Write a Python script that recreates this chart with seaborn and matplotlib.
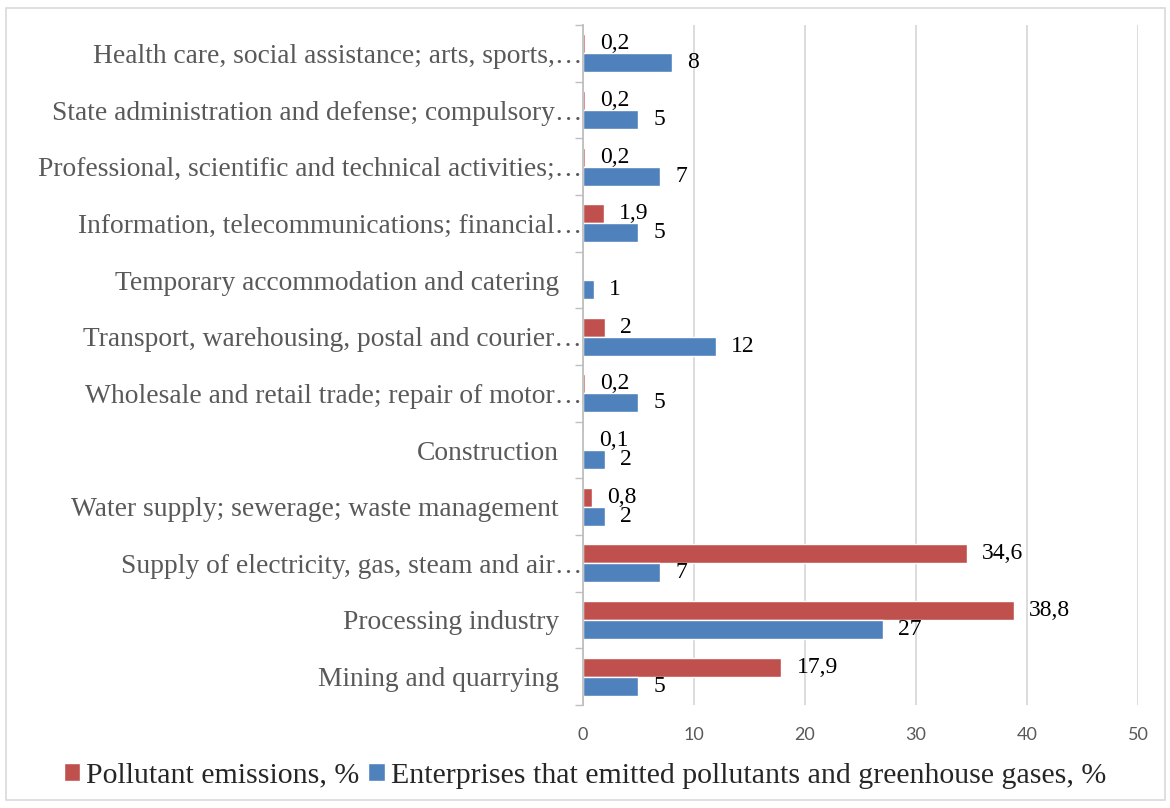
import numpy as np
import pandas as pd
import matplotlib
matplotlib.use("Agg")
import matplotlib.pyplot as plt
import matplotlib.transforms as mtransforms
from matplotlib.patches import Rectangle
from matplotlib.ticker import FixedLocator
import seaborn as sns

categories = [
    "Health care, social assistance; arts, sports,\u2026",
    "State administration and defense; compulsory\u2026",
    "Professional, scientific and technical activities;\u2026",
    "Information, telecommunications; financial\u2026",
    "Temporary accommodation and catering",
    "Transport, warehousing, postal and courier\u2026",
    "Wholesale and retail trade; repair of motor\u2026",
    "Construction",
    "Water supply; sewerage; waste management",
    "Supply of electricity, gas, steam and air\u2026",
    "Processing industry",
    "Mining and quarrying",
]
pollutant = [0.2, 0.2, 0.2, 1.9, np.nan, 2, 0.2, 0.1, 0.8, 34.6, 38.8, 17.9]
enterprises = [8, 5, 7, 5, 1, 12, 5, 2, 2, 7, 27, 5]
series_names = ["Pollutant emissions, %",
                "Enterprises that emitted pollutants and greenhouse gases, %"]
x_ticks = [0, 10, 20, 30, 40, 50]

df = pd.DataFrame({
    "category": categories * 2,
    "value": pollutant + enterprises,
    "series": [series_names[0]] * len(categories) + [series_names[1]] * len(categories),
})

sns.set_theme(style="white")
plt.rcParams["font.family"] = ["Liberation Serif", "DejaVu Serif"]

fig = plt.figure(figsize=(11.7, 8.08), dpi=100)
ax = fig.add_axes([0.498, 0.1275, 0.4746, 0.8415])

palette = {series_names[0]: "#C0504D", series_names[1]: "#4F81BD"}
sns.barplot(data=df, y="category", x="value", hue="series", order=categories,
            hue_order=series_names, palette=palette, orient="h", width=0.67,
            gap=0, errorbar=None, saturation=1, ax=ax, legend=True)

def fmt(v):
    return ("%g" % v).replace(".", ",")

for cont in ax.containers:
    labels = []
    for bar in cont:
        w = bar.get_width()
        labels.append("" if (w is None or np.isnan(w) or w == 0) else fmt(w))
    ax.bar_label(cont, labels=labels, padding=11, fontsize=17, color="black",
                 family=["Liberation Serif"])

ax.set_xlim(0, 50)
ax.set_ylim(len(categories) - 0.5, -0.5)
ax.set_xticks(x_ticks)
ax.set_xticklabels([str(t) for t in x_ticks], family=["Lato", "DejaVu Sans"],
                   fontsize=13, color="#595959")
ax.tick_params(axis="x", length=0, pad=16)
ax.set_yticks(range(len(categories)))
ax.set_yticklabels(categories, fontsize=19.8, color="#595959")
ax.yaxis.set_minor_locator(FixedLocator(np.arange(-0.5, len(categories), 1)))
ax.tick_params(axis="y", which="major", length=0, pad=17)
ax.tick_params(axis="y", which="minor", length=6, color="#BFBFBF", width=1, left=True)

# truncated labels overhang towards the axis with their ellipsis
shift = mtransforms.ScaledTranslation(23 / 100, 0, fig.dpi_scale_trans)
for lbl in ax.get_yticklabels():
    if lbl.get_text().endswith("\u2026"):
        lbl.set_transform(lbl.get_transform() + shift)

ax.set_xlabel("")
ax.set_ylabel("")
ax.grid(axis="x", color="#D9D9D9", linewidth=1.3)
ax.grid(axis="y", visible=False)
ax.set_axisbelow(True)
for s in ["top", "right", "bottom"]:
    ax.spines[s].set_visible(False)
ax.spines["left"].set_color("#BFBFBF")
ax.spines["left"].set_linewidth(1.3)

leg = ax.get_legend()
handles = leg.legend_handles
leg.remove()
fig.legend(handles, series_names, loc="center", bbox_to_anchor=(0.5, 0.04),
           ncol=2, frameon=False, fontsize=21.5, handlelength=0.55, handleheight=0.55,
           handletextpad=0.2, columnspacing=0.3)

fig.patches.append(Rectangle((6 / 1170, 8 / 808), 1159 / 1170, 792 / 808,
                             transform=fig.transFigure, fill=False,
                             edgecolor="#D9D9D9", linewidth=1.2))

fig.savefig("out.png", dpi=100)
